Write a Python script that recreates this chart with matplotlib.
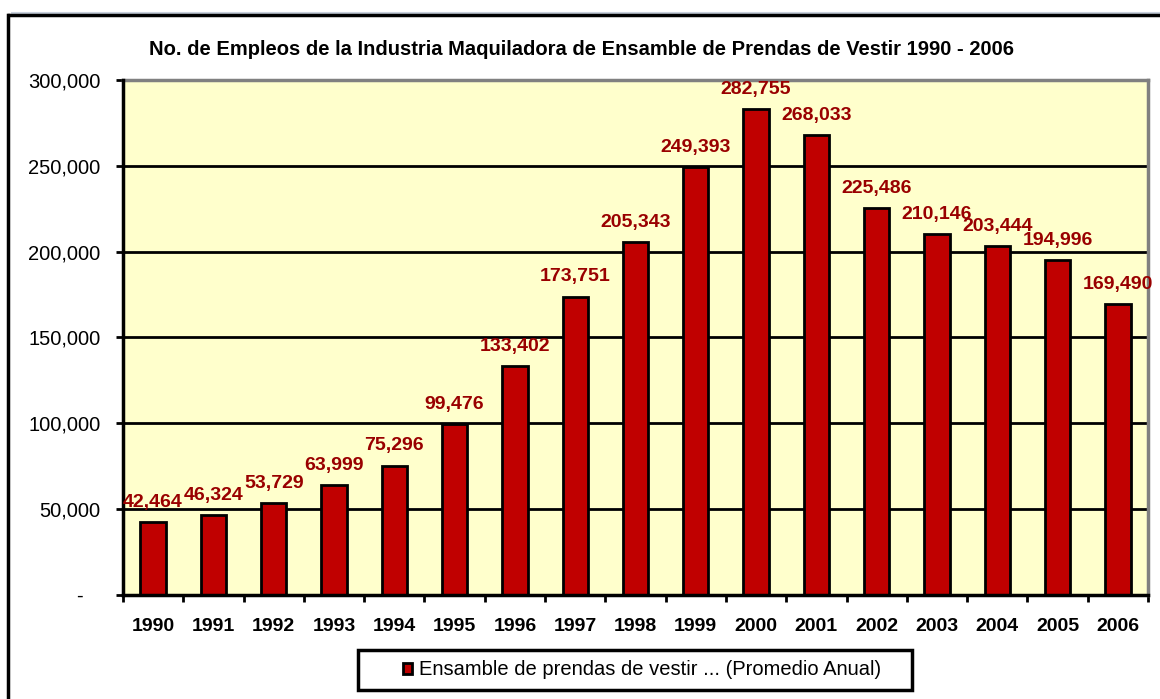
import matplotlib
matplotlib.use("Agg")
import matplotlib.pyplot as plt
from matplotlib.lines import Line2D
from matplotlib.patches import Rectangle
from matplotlib.ticker import FuncFormatter, FixedLocator

plt.rcParams['font.family'] = ['Liberation Sans', 'DejaVu Sans']

years = ['1990', '1991', '1992', '1993', '1994', '1995', '1996', '1997', '1998',
         '1999', '2000', '2001', '2002', '2003', '2004', '2005', '2006']
empleos = [42464, 46324, 53729, 63999, 75296, 99476, 133402, 173751, 205343,
           249393, 282755, 268033, 225486, 210146, 203444, 194996, 169490]

fig = plt.figure(figsize=(11.6, 6.99), dpi=100)
ax = fig.add_axes([0.106, 0.149, 0.8837, 0.7367])
ax.set_facecolor('#FFFFCC')

x = list(range(len(years)))
bars = ax.bar(x, empleos, width=0.42, color='#C00000', edgecolor='black',
              linewidth=2, zorder=3, label='Ensamble de prendas de vestir ... (Promedio Anual)')

ax.set_xlim(-0.5, len(years) - 0.5)
ax.set_ylim(0, 300000)
ax.set_yticks(range(0, 300001, 50000))
# Excel style: zero shown as a dash
ax.yaxis.set_major_formatter(FuncFormatter(lambda v, p: '-   ' if v == 0 else f'{int(v):,}'))
ax.yaxis.grid(True, color='black', linewidth=2, zorder=1)

ax.set_xticks(x)
ax.set_xticklabels(years, fontweight='bold', fontsize=14)
ax.xaxis.set_minor_locator(FixedLocator([i - 0.5 for i in range(len(years) + 1)]))
ax.tick_params(axis='x', which='major', length=0, pad=17)
ax.tick_params(axis='x', which='minor', length=5, width=2, direction='out')
ax.tick_params(axis='y', length=5, width=2, labelsize=14.5, pad=11)

for side in ['top', 'right']:
    ax.spines[side].set_color('#808080')
    ax.spines[side].set_linewidth(2.5)
for side in ['left', 'bottom']:
    ax.spines[side].set_color('black')
    ax.spines[side].set_linewidth(2.5)
    ax.spines[side].set_zorder(4)

for xi, v in zip(x, empleos):
    ax.annotate(f'{v:,}', (xi, v), xytext=(0, 8), textcoords='offset points',
                ha='center', va='bottom', fontsize=14, fontweight='bold',
                color='#990000', zorder=5, annotation_clip=False)

fig.text(0.501, 0.929, 'No. de Empleos de la Industria Maquiladora de Ensamble de Prendas de Vestir 1990 - 2006',
         ha='center', va='center', fontsize=14.5, fontweight='bold')

# legend: entry without frame, box drawn separately
leg = fig.legend(handles=[bars], loc='center left', bbox_to_anchor=(0.347, 0.0415),
                 fontsize=14.5, frameon=False, handlelength=0.45, handleheight=0.45,
                 handletextpad=0.35, borderpad=0, borderaxespad=0)
fig.add_artist(Rectangle((0.3086, 0.0129), 0.4776, 0.0572, transform=fig.transFigure,
                         fill=False, edgecolor='black', linewidth=2.5))

# outer chart border (top and left visible)
fig.add_artist(Line2D([0.01, 1.0], [0.9815, 0.9815], color='#C8D0DC', linewidth=1.5))
fig.add_artist(Line2D([0.006, 1.0], [0.979, 0.979], color='black', linewidth=2.5,
                      solid_capstyle='butt'))
fig.add_artist(Line2D([0.0065, 0.0065], [0.0, 0.979], color='black', linewidth=2.5,
                      solid_capstyle='projecting'))

fig.savefig('out.png', dpi=100)
